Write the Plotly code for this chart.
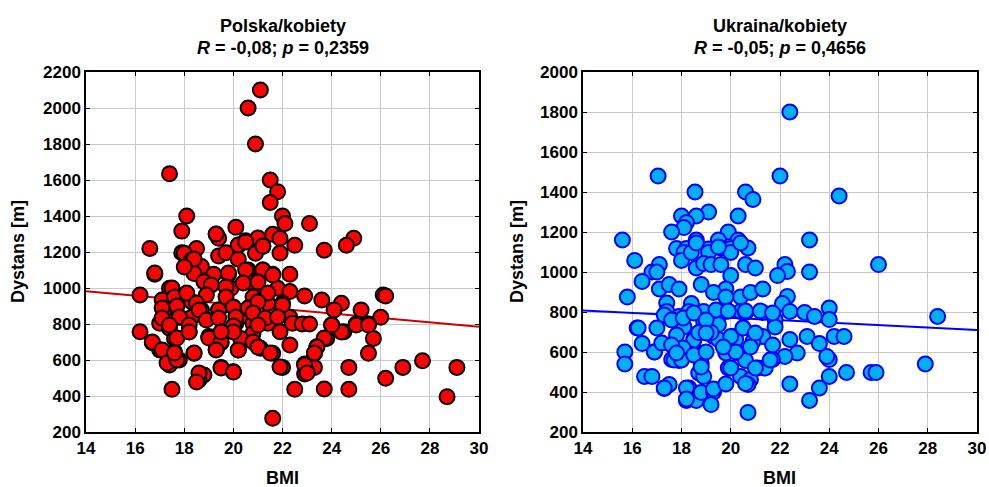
import plotly.graph_objects as go

# ---- Polska/kobiety (BMI, Dystans) ----
pl_bmi = [21.1, 20.6, 20.9, 17.4, 21.5, 21.8, 21.5, 18.1, 22.0, 22.1, 23.1, 17.9, 20.1, 19.3, 19.4,
          21.6, 21.0, 21.9, 20.5, 20.2, 22.5, 24.9, 24.6, 16.6, 18.5, 23.7, 21.2,
          17.9, 18.0, 19.4, 19.7, 20.2, 20.9, 18.3, 18.7, 20.6, 21.2, 21.6, 22.3, 16.8, 19.2, 19.8,
          18.4, 20.7, 18.8, 19.1, 17.4, 19.9, 21.8, 22.3, 16.2, 17.6, 18.9, 21.0, 22.9, 23.6, 24.4,
          26.1, 26.2, 17.2, 18.3, 21.4, 22.0, 20.8, 17.2, 18.7, 19.4, 25.2, 24.1, 17.8, 18.3, 20.3,
          22.3, 26.0, 17.0, 20.1, 20.8, 21.4, 22.4, 22.8, 23.1, 25.0, 25.5, 24.0, 17.4, 20.0, 20.8,
          21.9, 24.5, 16.2, 18.2, 19.5, 17.6, 23.8, 25.7, 16.7, 19.5, 19.0, 20.3, 17.0, 17.6, 18.4,
          19.3, 20.2, 21.1, 21.6, 23.4, 23.3, 25.5, 17.4, 17.8, 22.9, 23.3, 23.0, 22.9, 19.5, 20.0,
          22.0, 24.7, 26.9, 27.7, 29.1, 18.8, 18.6, 17.5, 22.5, 24.7, 26.2, 28.7, 21.6,
          19.3, 21.0, 20.2, 21.2, 18.4, 20.5, 21.9, 18.0, 16.8, 19.8, 20.5, 21.2, 21.6, 19.7, 17.5,
          20.4, 21.0, 17.1, 17.6, 18.1, 19.7, 20.8, 21.4, 17.1, 17.7, 18.5, 19.4, 20.0, 20.6, 21.0,
          22.0, 17.1, 17.8, 18.6, 18.9, 19.4, 20.1, 20.8, 21.3, 21.8, 17.4, 18.2, 20.0, 21.0,
          16.7, 17.1, 17.3, 17.7, 17.6, 17.7, 18.2, 18.4, 18.6, 18.5, 19.0, 19.5, 19.3, 19.5, 20.0,
          20.2, 20.8, 21.0, 21.5, 21.9, 20.0, 19.5, 22.3, 22.9, 23.0, 23.7, 24.4, 23.7, 23.4, 23.3,
          24.0, 25.0, 25.5]
pl_dist = [2100, 2000, 1800, 1635, 1600, 1535, 1475, 1400, 1400, 1358, 1358, 1316, 1337, 1298, 1276,
           1298, 1276, 1276, 1263, 1237, 1237, 1276, 1237, 1220, 1220, 1210, 1230,
           1196, 1193, 1178, 1196, 1160, 1193, 1156, 1119, 1100, 1100, 1076, 1076, 1076, 1076, 1076,
           1080, 1035, 1035, 1017, 998, 998, 998, 980, 961, 961, 961, 961, 956, 933, 915,
           961, 956, 933, 924, 915, 915, 915, 878, 878, 878, 878, 878, 837, 837, 841,
           837, 837, 804, 804, 804, 804, 804, 800, 800, 800, 800, 794, 776, 757, 748,
           757, 757, 757, 757, 757, 720, 720, 720, 696, 696, 730, 720, 656, 646, 637,
           659, 656, 665, 637, 674, 637, 637, 572, 600, 578, 559, 535, 522, 559, 535,
           559, 559, 559, 596, 559, 517, 489, 437, 437, 437, 498, 396, 276,
           1300, 1278, 1239, 1233, 1161, 1256, 1194, 1117, 1083, 1083, 1100, 1100, 1072, 1006, 1000,
           1028, 1033, 933, 950, 972, 950, 950, 972, 889, 900, 917, 878, 894, 889, 922,
           906, 833, 839, 878, 822, 833, 839, 861, 833, 839, 794, 794, 789, 794,
           700, 656, 583, 600, 639, 722, 756, 639, 528, 478, 722, 700, 656, 556, 756,
           656, 700, 672, 639, 561, 533, 756, 683, 572, 528, 439, 756, 722, 672, 639,
           794, 794, 794]

# ---- Ukraina/kobiety (BMI, Dystans) ----
ua_bmi = [22.4, 17.05, 22.0, 18.55, 20.6, 20.9, 24.4, 19.1, 18.0, 18.6, 20.3, 18.2, 18.1, 17.6, 19.9,
          15.6, 18.6, 19.5, 20.3, 23.2, 17.8, 18.2, 19.1, 19.6, 20.0, 20.7,
          16.1, 18.1, 18.0, 18.4, 19.1, 20.0, 20.4, 19.5, 18.6, 18.6, 18.9, 19.2, 19.6, 20.6, 21.0,
          22.2, 22.3, 21.9, 23.2, 26.0, 20.0, 16.8, 17.1, 17.0, 16.4, 15.8, 17.1, 17.5, 17.9, 18.8,
          19.8, 19.3, 20.4, 20.8, 21.3, 17.4, 18.4, 19.8, 22.3, 17.4, 17.9, 18.3, 18.9, 19.4, 19.8,
          20.4, 20.6, 21.3, 22.1, 22.4, 23.0, 23.4, 24.0, 24.0, 28.4, 17.6, 18.1, 18.9, 19.5, 21.8,
          21.8, 16.2, 17.0, 20.5, 18.7, 19.3, 20.1, 21.3, 23.1, 24.2, 24.6, 16.4, 17.7, 18.5, 19.5,
          20.2, 20.9, 22.4, 23.6, 15.7, 16.9, 17.9, 18.9, 19.8, 20.3, 22.7, 22.2, 15.7, 17.6, 17.9,
          18.8, 20.6, 21.7, 24.0, 23.9, 19.9, 21.1, 21.4, 18.7, 18.9, 20.4, 20.8, 20.7, 16.5, 16.8,
          24.7, 25.7, 25.9, 24.0, 27.9, 17.3, 17.5, 18.3, 18.2, 18.6, 18.8, 19.3, 19.3, 19.8, 19.2,
          22.4, 23.6, 23.2, 20.7,
          16.24, 17.3, 17.6, 18.07, 17.8, 18.5, 18.7, 19.2, 18.07, 17.7, 18.0, 18.5, 19.0, 20.0,
          20.2, 20.0, 20.6, 21.7, 21.6, 21.0, 18.8, 18.2, 18.2, 17.3, 16.9, 17.2, 17.6, 17.8,
          19.4, 19.9, 20.6, 21.2, 21.7, 18.5, 19.0, 20.5, 21.0, 19.0, 19.7, 20.8]
ua_dist = [1800, 1480, 1480, 1400, 1400, 1363, 1380, 1300, 1280, 1280, 1280, 1247, 1222, 1200, 1200,
           1160, 1160, 1160, 1160, 1160, 1118, 1118, 1115, 1120, 1118, 1120,
           1058, 1098, 1058, 1098, 1098, 1098, 1145, 1125, 1145, 1020, 1042, 1037, 1037, 1037, 1020,
           1037, 1003, 982, 1000, 1037, 982, 1000, 1037, 1000, 953, 875, 915, 937, 915, 937,
           915, 898, 875, 898, 915, 845, 842, 875, 878, 803, 778, 803, 803, 798, 803,
           803, 798, 798, 842, 803, 798, 778, 820, 762, 778, 762, 725, 753, 737, 762,
           725, 720, 720, 720, 695, 678, 678, 678, 678, 678, 678, 642, 645, 662, 662,
           662, 653, 662, 642, 600, 600, 620, 595, 595, 595, 595, 578, 540, 562, 558,
           542, 558, 562, 562, 578, 520, 520, 520, 495, 478, 478, 462, 437, 478, 478,
           498, 498, 498, 478, 540, 417, 437, 420, 358, 358, 398, 400, 415, 440, 337,
           440, 420, 358, 298,
           720, 785, 760, 770, 685, 660, 697, 697, 620, 560, 560, 585, 600, 677,
           600, 520, 443, 635, 560, 520, 525, 420, 365, 420, 600, 645, 635, 595,
           810, 805, 805, 805, 795, 795, 760, 720, 695, 695, 625, 625]

# regression lines (end points)
reg_x = [14, 30]
pl_reg = [982, 785]
ua_reg = [808, 710]

pl_title = ["Polska/kobiety", "<i>R</i> = -0,08; <i>p</i> = 0,2359"]
ua_title = ["Ukraina/kobiety", "<i>R</i> = -0,05; <i>p</i> = 0,4656"]

W, H = 989, 487
FAM = "Liberation Sans, Arial, sans-serif"

fig = go.Figure()
fig.add_trace(go.Scatter(x=reg_x, y=pl_reg, mode="lines", line=dict(color="#cc0000", width=2),
                         xaxis="x", yaxis="y", hoverinfo="skip"))
fig.add_trace(go.Scatter(x=pl_bmi, y=pl_dist, mode="markers", xaxis="x", yaxis="y",
                         marker=dict(size=15, color="#ff0000", line=dict(color="#000000", width=2))))
fig.add_trace(go.Scatter(x=reg_x, y=ua_reg, mode="lines", line=dict(color="#0000ff", width=2),
                         xaxis="x2", yaxis="y2", hoverinfo="skip"))
fig.add_trace(go.Scatter(x=ua_bmi, y=ua_dist, mode="markers", xaxis="x2", yaxis="y2",
                         marker=dict(size=15, color="#00b0f0", line=dict(color="#0000ff", width=2))))

axis_common = dict(showline=True, linecolor="#000000", linewidth=1.5, mirror="ticks",
                   ticks="inside", ticklen=4, tickcolor="#000000",
                   showgrid=True, gridcolor="#c8c8c8", gridwidth=1.2, zeroline=False,
                   tickfont=dict(size=17, family=FAM, color="#000"),
                   tickprefix="<b>", ticksuffix="</b>", automargin=False)

ydom = [1 - 432 / H, 1 - 72 / H]
xdom1 = [86 / W, 479 / W]
xdom2 = [583 / W, 977 / W]

fig.update_layout(
    width=W, height=H, showlegend=False,
    plot_bgcolor="#ffffff", paper_bgcolor="#ffffff",
    margin=dict(l=0, r=0, t=0, b=0, autoexpand=False), font=dict(family=FAM, color="#000"),
    xaxis=dict(domain=xdom1, range=[14, 30], dtick=2, anchor="y", **axis_common),
    yaxis=dict(domain=ydom, range=[200, 2200], dtick=200, anchor="x", **axis_common),
    xaxis2=dict(domain=xdom2, range=[14, 30], dtick=2, anchor="y2", **axis_common),
    yaxis2=dict(domain=ydom, range=[200, 2000], dtick=200, anchor="x2", **axis_common),
)

for dom, t, ytx in [(xdom1, pl_title, 18), (xdom2, ua_title, 517)]:
    xc = (dom[0] + dom[1]) / 2
    fig.add_annotation(x=xc, y=1 - 26 / H, xref="paper", yref="paper", showarrow=False,
                       text="<b>" + t[0] + "</b>", font=dict(size=18),
                       xanchor="center", yanchor="middle")
    fig.add_annotation(x=xc, y=1 - 48 / H, xref="paper", yref="paper", showarrow=False,
                       text="<b>" + t[1] + "</b>", font=dict(size=18),
                       xanchor="center", yanchor="middle")
    fig.add_annotation(x=xc, y=1 - 478 / H, xref="paper", yref="paper", showarrow=False,
                       text="<b>BMI</b>", font=dict(size=18),
                       xanchor="center", yanchor="middle")
    fig.add_annotation(x=ytx / W, y=1 - 252 / H, xref="paper", yref="paper", showarrow=False,
                       text="<b>Dystans [m]</b>", font=dict(size=18), textangle=-90,
                       xanchor="center", yanchor="middle")

fig.write_html("out.html", config={"displayModeBar": False},
               post_script="document.body.style.margin='0';")
